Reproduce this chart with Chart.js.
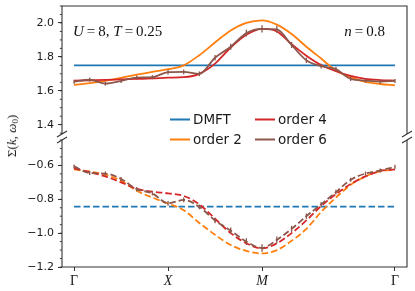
<!DOCTYPE html>
<html>
<head>
<meta charset="utf-8">
<script src="https://cdn.jsdelivr.net/npm/chart.js@4.4.1/dist/chart.umd.min.js"></script>
<style>
  html, body { margin: 0; padding: 0; background: #fff; }
  #wrap { position: relative; width: 415px; height: 291px; overflow: hidden; }
  #wrap canvas { position: absolute; left: 0; top: 0; }
  #ylabel {
    position: absolute; left: 12px; top: 136px;
    transform: translate(-50%, -50%) rotate(-90deg);
    font: 13px 'Liberation Serif'; color: #222; white-space: nowrap;
  }
  #ylabel sub { font-size: 0.7em; vertical-align: -0.25em; line-height: 0; }
</style>
</head>
<body>
<div id="wrap">
  <canvas id="upper" width="415" height="291"></canvas>
  <canvas id="lower" width="415" height="291"></canvas>
  <div id="ylabel">Σ(<i>k</i>, <i>ω</i><sub>0</sub>)</div>
</div>
<script>
// path through the Brillouin zone: Γ -> X -> M -> Γ
const kPath = [0, 0.1667, 0.3333, 0.5, 0.6667, 0.8333, 1, 1.1667, 1.3333, 1.5, 1.6667, 1.8333,
               2, 2.1571, 2.3143, 2.4714, 2.6285, 2.7857, 2.9428, 3.0999, 3.2571, 3.4142];
const kTickPos = [0, 1, 2, 3.4142];
const kTickLabels = ['Γ', 'X', 'M', 'Γ'];

// DMFT is k independent
const kDMFT = [0, 3.4142];
const reDMFT = [1.75, 1.75];
const imDMFT = [-0.843, -0.843];

// upper panel (solid lines)
const reOrder2 = [1.634, 1.645, 1.658, 1.676, 1.695, 1.712, 1.727, 1.75, 1.81, 1.885, 1.955, 2.0,
                  2.015, 1.99, 1.935, 1.86, 1.79, 1.72, 1.68, 1.652, 1.64, 1.632];
const reOrder4 = [1.66, 1.662, 1.664, 1.667, 1.67, 1.673, 1.677, 1.68, 1.70, 1.76, 1.855, 1.93,
                  1.965, 1.95, 1.875, 1.807, 1.752, 1.715, 1.688, 1.67, 1.663, 1.66];
const reOrder6 = [1.653, 1.665, 1.642, 1.658, 1.678, 1.68, 1.71, 1.712, 1.70, 1.795, 1.86, 1.94,
                  1.965, 1.962, 1.87, 1.78, 1.745, 1.728, 1.67, 1.66, 1.654, 1.658];
const reErr6 = [0.012, 0.012, 0.012, 0.012, 0.012, 0.012, 0.014, 0.014, 0.014, 0.016, 0.018, 0.02,
                0.022, 0.02, 0.018, 0.016, 0.014, 0.014, 0.012, 0.012, 0.012, 0.012];

// lower panel (dashed lines)
const imOrder2 = [-0.624, -0.636, -0.655, -0.69, -0.75, -0.79, -0.825, -0.865, -0.94, -1.01, -1.07, -1.105,
                  -1.12, -1.10, -1.045, -0.975, -0.875, -0.79, -0.715, -0.665, -0.635, -0.625];
const imOrder4 = [-0.618, -0.64, -0.665, -0.70, -0.738, -0.755, -0.765, -0.78, -0.83, -0.915, -1.0, -1.06,
                  -1.09, -1.06, -1.0, -0.925, -0.84, -0.77, -0.71, -0.665, -0.633, -0.624];
const imOrder6 = [-0.606, -0.645, -0.648, -0.68, -0.74, -0.765, -0.824, -0.804, -0.845, -0.925, -0.985, -1.05,
                  -1.088, -1.04, -0.975, -0.9, -0.83, -0.758, -0.685, -0.648, -0.63, -0.608];
const imErr6 = [0.012, 0.012, 0.012, 0.012, 0.012, 0.012, 0.014, 0.014, 0.014, 0.016, 0.018, 0.02,
                0.022, 0.02, 0.018, 0.016, 0.014, 0.014, 0.012, 0.012, 0.012, 0.012];

const reTicks = [1.4, 1.6, 1.8, 2.0];
const imTicks = [-1.2, -1.0, -0.8, -0.6];

const seriesNames = ['DMFT', 'order 2', 'order 4', 'order 6'];
const seriesColors = ['#1f77b4', '#ff7f0e', '#d62728', '#8c564b'];

const axisColor = '#333';
const kMin = -0.128, kMax = 3.542;

function series(idx, xs, ys, dashed, errors) {
  return {
    label: seriesNames[idx],
    data: xs.map((x, i) => ({ x: x, y: ys[i] })),
    borderColor: seriesColors[idx],
    borderWidth: 1.8,
    borderDash: dashed ? [6.5, 3] : [],
    pointRadius: 0,
    cubicInterpolationMode: 'monotone',
    fill: false,
    order: 4 - idx,
    errors: errors
  };
}

// frame, broken-axis marks, minor ticks and error bars
const panelPlugin = {
  id: 'panel',
  afterDatasetsDraw(chart) {
    const ctx = chart.ctx;
    const ys = chart.scales.y;
    chart.data.datasets.forEach((ds, i) => {
      if (!ds.errors) return;
      const meta = chart.getDatasetMeta(i);
      ctx.save();
      ctx.strokeStyle = ds.borderColor;
      ctx.lineWidth = 1.3;
      meta.data.forEach((pt, j) => {
        const v = ds.data[j].y, e = ds.errors[j];
        ctx.beginPath();
        ctx.moveTo(pt.x, ys.getPixelForValue(v - e));
        ctx.lineTo(pt.x, ys.getPixelForValue(v + e));
        ctx.stroke();
      });
      ctx.restore();
    });
  },
  afterDraw(chart, args, opts) {
    const ctx = chart.ctx;
    const a = chart.chartArea;
    const ys = chart.scales.y;
    ctx.save();
    ctx.strokeStyle = axisColor;
    ctx.lineWidth = 1.1;
    ctx.beginPath();
    if (opts.part === 'upper') {
      ctx.moveTo(a.left, a.bottom); ctx.lineTo(a.left, a.top);
      ctx.lineTo(a.right, a.top); ctx.lineTo(a.right, a.bottom);
    } else {
      ctx.moveTo(a.left, a.top); ctx.lineTo(a.left, a.bottom);
      ctx.lineTo(a.right, a.bottom); ctx.lineTo(a.right, a.top);
    }
    ctx.stroke();
    // break marks
    const yb = opts.part === 'upper' ? a.bottom : a.top;
    ctx.beginPath();
    [a.left, a.right].forEach(x => {
      ctx.moveTo(x - 5, yb + 3); ctx.lineTo(x + 5, yb - 3);
    });
    ctx.stroke();
    // minor ticks every 0.05
    ctx.lineWidth = 0.9;
    ctx.beginPath();
    for (let v = Math.ceil(ys.min / 0.05 - 1e-6) * 0.05; v <= ys.max + 1e-9; v += 0.05) {
      const py = ys.getPixelForValue(v);
      ctx.moveTo(a.left - 2.2, py); ctx.lineTo(a.left, py);
    }
    ctx.stroke();
    ctx.restore();

    if (opts.part === 'upper') {
      drawAnnotations(chart);
      drawLegend(chart);
    }
  }
};

function drawMath(ctx, parts, x, y, alignRight) {
  let w = 0;
  parts.forEach(p => { ctx.font = p[1]; w += ctx.measureText(p[0]).width; });
  if (alignRight) x -= w;
  parts.forEach(p => {
    ctx.font = p[1];
    ctx.fillText(p[0], x, y);
    x += ctx.measureText(p[0]).width;
  });
}

function drawAnnotations(chart) {
  const ctx = chart.ctx;
  const a = chart.chartArea;
  const it = 'italic 15px "Liberation Serif"';
  const rm = '15px "Liberation Serif"';
  ctx.save();
  ctx.fillStyle = '#111';
  ctx.textBaseline = 'alphabetic';
  drawMath(ctx, [['U', it], ['\u2009=\u20098, ', rm], ['T', it], ['\u2009=\u20090.25', rm]], a.left + 11, a.top + 30);
  drawMath(ctx, [['n', it], ['\u2009=\u20090.8', rm]], a.right - 22, a.top + 30, true);
  ctx.restore();
}

function drawLegend(chart) {
  const ctx = chart.ctx;
  const a = chart.chartArea;
  const cols = [a.left + 108, a.left + 193];
  const rows = [a.bottom - 14.5, a.bottom + 5.5];
  const layout = [[0, 0], [0, 1], [1, 0], [1, 1]];
  ctx.save();
  ctx.font = '13.5px "DejaVu Sans"';
  ctx.textBaseline = 'middle';
  seriesNames.forEach((name, i) => {
    const x = cols[layout[i][0]], y = rows[layout[i][1]];
    ctx.strokeStyle = seriesColors[i];
    ctx.lineWidth = 2;
    ctx.beginPath();
    ctx.moveTo(x, y); ctx.lineTo(x + 20, y);
    ctx.stroke();
    ctx.fillStyle = '#1a1a1a';
    ctx.fillText(name, x + 23, y + 0.5);
  });
  ctx.restore();
}

function makePanel(id, part, datasets, yMin, yMax, yTicks) {
  const upper = part === 'upper';
  return new Chart(document.getElementById(id), {
    type: 'line',
    data: { datasets: datasets },
    options: {
      responsive: false,
      animation: false,
      layout: { padding: upper ? { left: 22, right: 8, top: 6, bottom: 157 }
                               : { left: 22, right: 8, top: 140, bottom: 2 } },
      plugins: {
        legend: { display: false },
        tooltip: { enabled: false },
        panel: { part: part }
      },
      scales: {
        x: {
          type: 'linear',
          min: kMin, max: kMax,
          display: !upper,
          afterFit: s => {
            if (!upper) s.height = 22;
            s.paddingLeft = 0; s.paddingRight = 0;
          },
          afterBuildTicks: s => { s.ticks = kTickPos.map(v => ({ value: v })); },
          grid: { drawOnChartArea: false, tickLength: 4, tickColor: axisColor, tickWidth: 1 },
          border: { display: false },
          ticks: {
            autoSkip: false, maxRotation: 0, padding: 2, color: '#1a1a1a',
            callback: (v, i) => kTickLabels[i],
            font: c => ({ family: 'Liberation Serif', size: 14,
                          style: (c.index === 1 || c.index === 2) ? 'italic' : 'normal' })
          }
        },
        y: {
          min: yMin, max: yMax,
          afterFit: s => { s.width = 40; s.paddingTop = 0; s.paddingBottom = 0; },
          afterBuildTicks: s => { s.ticks = yTicks.map(v => ({ value: v })); },
          grid: { drawOnChartArea: false, tickLength: 4, tickColor: axisColor, tickWidth: 1 },
          border: { display: false },
          ticks: {
            padding: 4, color: '#1a1a1a',
            font: { family: 'DejaVu Sans', size: 11 },
            callback: v => v.toFixed(1).replace('-', '\u2212')
          }
        }
      }
    },
    plugins: [panelPlugin]
  });
}

makePanel('upper', 'upper', [
  series(0, kDMFT, reDMFT, false),
  series(1, kPath, reOrder2, false),
  series(2, kPath, reOrder4, false),
  series(3, kPath, reOrder6, false, reErr6)
], 1.345, 2.1, reTicks);

makePanel('lower', 'lower', [
  series(0, kDMFT, imDMFT, true),
  series(1, kPath, imOrder2, true),
  series(2, kPath, imOrder4, true),
  series(3, kPath, imOrder6, true, imErr6)
], -1.2, -0.45, imTicks);
</script>
</body>
</html>
